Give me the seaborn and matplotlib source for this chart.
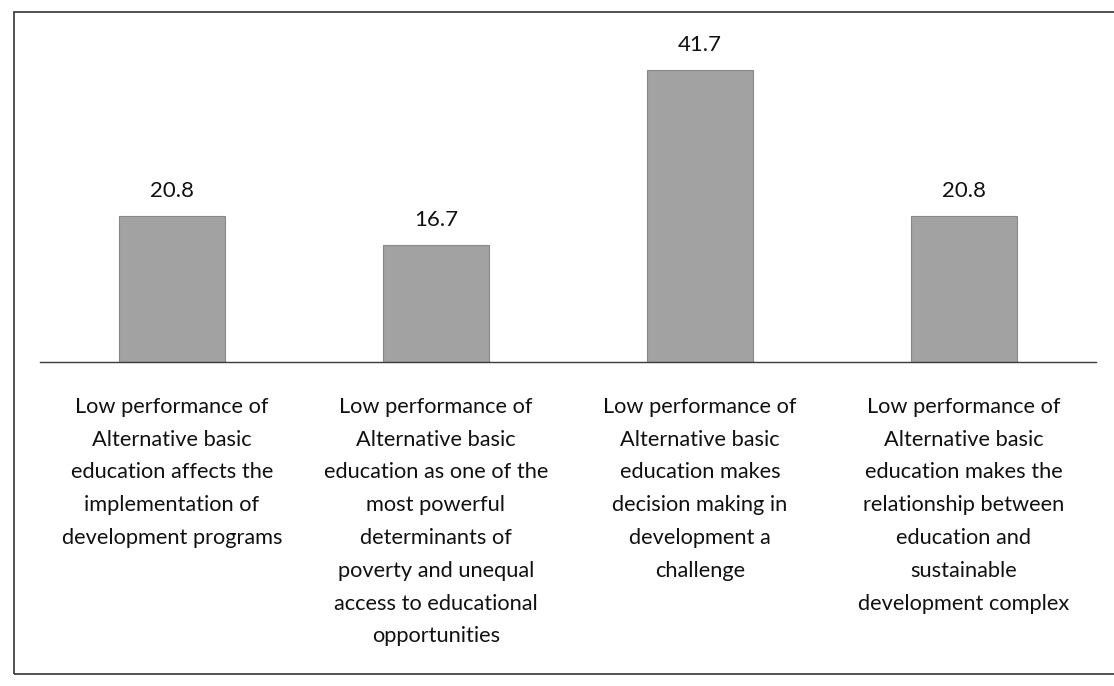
import matplotlib
matplotlib.use("Agg")
import matplotlib.pyplot as plt
from matplotlib.patches import Rectangle
import seaborn as sns
import pandas as pd

categories = [
    "Low performance of\nAlternative basic\neducation affects the\nimplementation of\ndevelopment programs",
    "Low performance of\nAlternative basic\neducation as one of the\nmost powerful\ndeterminants of\npoverty and unequal\naccess to educational\nopportunities",
    "Low performance of\nAlternative basic\neducation makes\ndecision making in\ndevelopment a\nchallenge",
    "Low performance of\nAlternative basic\neducation makes the\nrelationship between\neducation and\nsustainable\ndevelopment complex",
]
values = [20.8, 16.7, 41.7, 20.8]
value_labels = ["20.8", "16.7", "41.7", "20.8"]

sns.set_theme(style="white")
plt.rcParams["font.family"] = ["Lato", "DejaVu Sans"]

W, H = 1114, 686
fig = plt.figure(figsize=(W / 100, H / 100), dpi=100)
fig.patch.set_facecolor("white")

# plot area: baseline near y=362 px, spanning x 40..1096 px
ax = fig.add_axes([40 / W, (H - 362) / H, 1056 / W, 315 / H])

df = pd.DataFrame({"category": categories, "value": values})
sns.barplot(data=df, x="category", y="value", color="#a2a2a2",
            saturation=1, width=0.4, edgecolor="#888888", linewidth=0.8, ax=ax)

ax.set_ylim(0, 45)
ax.set_xlim(-0.5, 3.5)
ax.set_xlabel("")
ax.set_ylabel("")
ax.set_yticks([])
for s in ["top", "right", "left"]:
    ax.spines[s].set_visible(False)
ax.spines["bottom"].set_color("#3a3a3a")
ax.spines["bottom"].set_linewidth(1.0)
ax.tick_params(axis="x", length=0, pad=25)
ax.set_xticks(range(len(categories)))
ax.set_xticklabels(categories, fontsize=15.7, color="#111111",
                   linespacing=1.80, va="top", ha="center")

for i, (v, lab) in enumerate(zip(values, value_labels)):
    ax.text(i, v + 2.2, lab, ha="center", va="bottom", fontsize=16,
            color="#111111")

# surrounding frame
fig.patches.append(Rectangle((14 / W, 12 / H), (W + 20) / W, (674 - 12) / H,
                             transform=fig.transFigure, fill=False,
                             edgecolor="#333333", linewidth=1.2))

fig.savefig("out.png", dpi=100)
